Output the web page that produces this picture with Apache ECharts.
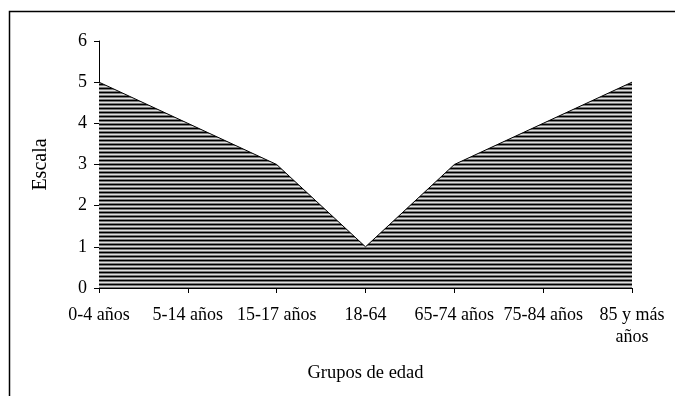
<!DOCTYPE html>
<html><head><meta charset="utf-8">
<script src="https://cdn.jsdelivr.net/npm/echarts@6/dist/echarts.min.js"></script>
<style>html,body{margin:0;padding:0;background:#fff}#c{width:675px;height:396px}</style>
</head><body><div id="c"></div>
<script>
const categories = ['0-4 años', '5-14 años', '15-17 años', '18-64', '65-74 años', '75-84 años', '85 y más\naños'];
const values = [5, 4, 3, 1, 3, 4, 5];
const yTicks = [0, 1, 2, 3, 4, 5, 6];

function hatch() {
  const c = document.createElement('canvas');
  c.width = 8; c.height = 4;
  const g = c.getContext('2d');
  const rows = ['#000000', '#7a7a7a', '#e0e0e0', '#7a7a7a'];
  rows.forEach((col, i) => { g.fillStyle = col; g.fillRect(0, i, 8, 1); });
  return c;
}

const font = '"Liberation Serif", "DejaVu Serif", serif';
const chart = echarts.init(document.getElementById('c'));
chart.setOption({
  animation: false,
  backgroundColor: '#fff',
  textStyle: { fontFamily: font },
  grid: { left: 99, right: 43, top: 41, bottom: 108 },
  xAxis: {
    type: 'category', data: categories, boundaryGap: false,
    name: 'Grupos de edad', nameLocation: 'middle', nameGap: 76,
    nameTextStyle: { fontFamily: font, fontSize: 18.5, color: '#000' },
    axisLine: { lineStyle: { color: '#000', width: 1 } },
    axisTick: { alignWithLabel: true, length: 5, lineStyle: { color: '#000' } },
    axisLabel: { fontFamily: font, fontSize: 18, color: '#000', margin: 16, lineHeight: 22, interval: 0 },
    splitLine: { show: false }
  },
  yAxis: {
    type: 'value', min: 0, max: 6, interval: 1,
    name: 'Escala', nameLocation: 'middle', nameGap: 48,
    nameTextStyle: { fontFamily: font, fontSize: 20, color: '#000' },
    axisLine: { show: true, lineStyle: { color: '#000', width: 1 } },
    axisTick: { show: true, length: 5, lineStyle: { color: '#000' } },
    axisLabel: { fontFamily: font, fontSize: 18, color: '#000', margin: 12,
      formatter: v => yTicks.includes(v) ? String(v) : '' },
    splitLine: { show: false }
  },
  series: [{
    type: 'line', data: values, symbol: 'none',
    lineStyle: { color: '#000', width: 1 },
    areaStyle: { color: { image: hatch(), repeat: 'repeat' }, opacity: 1 }
  }],
  graphic: [{
    type: 'polyline', silent: true,
    shape: { points: [[9.5, 396], [9.5, 11.5], [675, 11.5]] },
    style: { stroke: '#000', lineWidth: 1.5, fill: null }
  }]
});
</script></body></html>
